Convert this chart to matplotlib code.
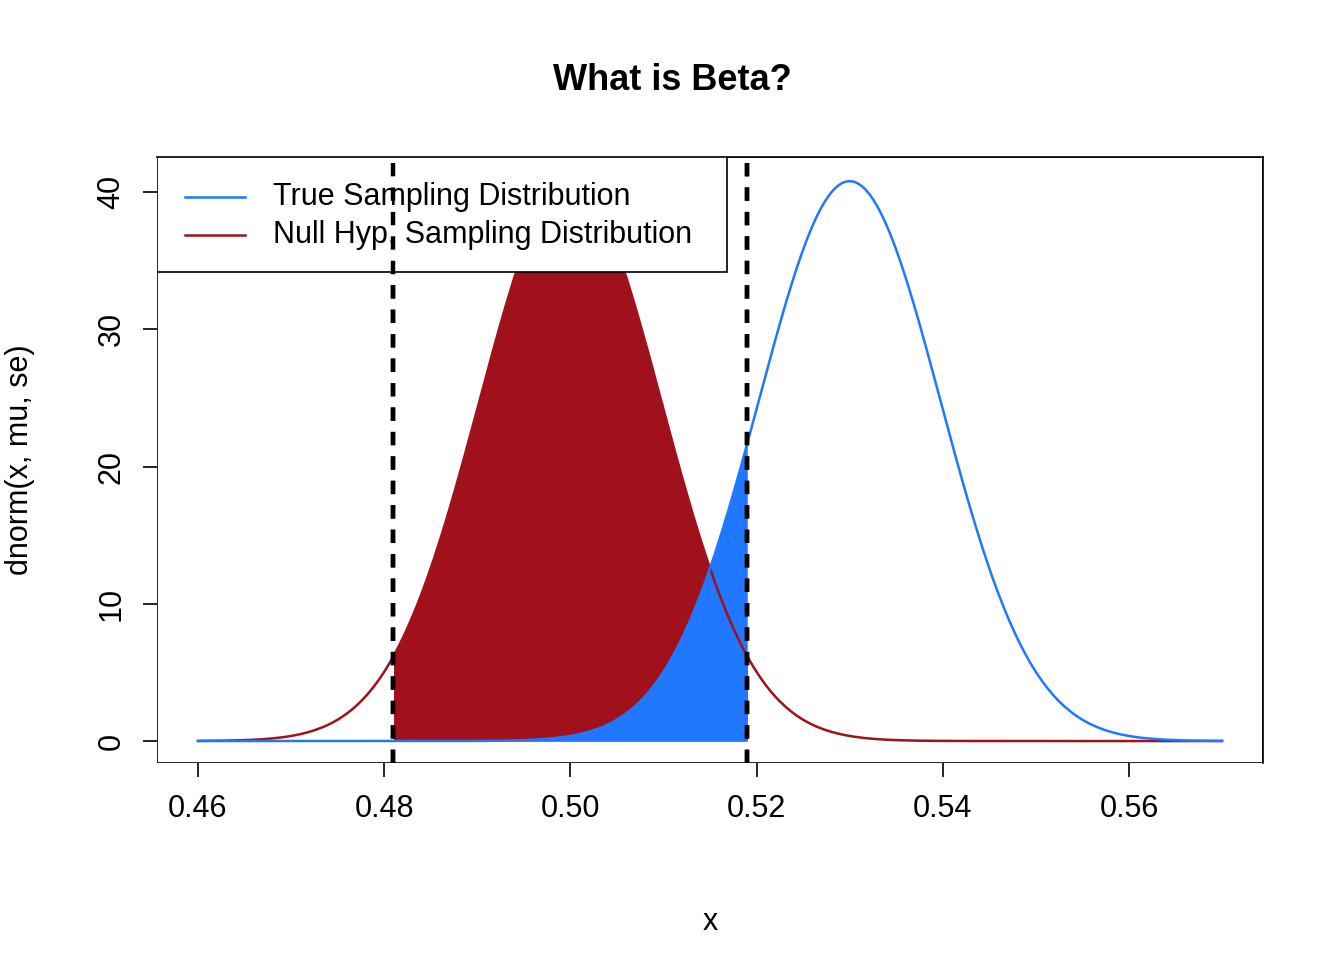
import numpy as np
import matplotlib.pyplot as plt
from matplotlib.patches import Rectangle

mu_null = 0.50
mu_true = 0.53
se = 0.00978
crit_lo = 0.481
crit_hi = 0.519
x_range = (0.46, 0.57)
x_ticks = [0.46, 0.48, 0.50, 0.52, 0.54, 0.56]
y_ticks = [0, 10, 20, 30, 40]
legend_labels = ["True Sampling Distribution", "Null Hyp. Sampling Distribution"]

blue = "#1F78FF"
red = "#A0111B"


def dnorm(x, m, s):
    return np.exp(-0.5 * ((x - m) / s) ** 2) / (s * np.sqrt(2 * np.pi))


plt.rcParams['font.family'] = ['Liberation Sans', 'DejaVu Sans']
fig = plt.figure(figsize=(6.72, 4.8), dpi=200)
ax = fig.add_axes([157 / 1344, 1 - 763 / 960, (1263 - 157) / 1344, (763 - 157) / 960])

x = np.linspace(x_range[0], x_range[1], 300)
ax.plot(x, dnorm(x, mu_null, se), color=red, lw=0.9)
xs = np.linspace(crit_lo, crit_hi, 200)
ax.fill_between(xs, 0, dnorm(xs, mu_null, se), color=red, lw=0)
ax.fill_between(xs, 0, dnorm(xs, mu_true, se), color=blue, lw=0)
ax.plot(x, dnorm(x, mu_true, se), color=blue, lw=0.9)
for c in (crit_lo, crit_hi):
    ax.axvline(c, color='black', lw=1.6, ls=(0, (3, 2.5)))

ax.set_xlim(0.4556, 0.5744)
ax.set_ylim(-1.6, 42.55)
ax.set_xticks(x_ticks)
ax.set_xticklabels([f"{t:.2f}" for t in x_ticks])
ax.set_yticks(y_ticks)
ax.set_yticklabels([str(t) for t in y_ticks], rotation=90, va='center')
ax.tick_params(labelsize=11, length=5, width=0.6, pad=6)
for s in ax.spines.values():
    s.set_linewidth(0.6)
for s in ('top', 'right'):
    ax.spines[s].set_visible(True)
ax.spines['bottom'].set_visible(False)
ax.spines['left'].set_visible(False)
ax.add_patch(Rectangle((0, 0), 1, 1, transform=ax.transAxes, fill=False, lw=0.6, zorder=5))
ax.set_xlabel("x", fontsize=11, labelpad=30)
ax.set_ylabel("dnorm(x, mu, se)", fontsize=11, labelpad=22)
fig.suptitle("What is Beta?", fontsize=13, fontweight='bold', y=1 - 80 / 960, va='center')

# legend box (drawn over the plot, like R's legend)
lw_frac = (727 - 157) / (1263 - 157)
lh_frac = (272 - 157) / (763 - 157)
ax.add_patch(Rectangle((0, 1 - lh_frac), lw_frac, lh_frac, transform=ax.transAxes,
                       facecolor='white', edgecolor='black', lw=0.6, zorder=6))
for i, (lab, col) in enumerate(zip(legend_labels, [blue, red])):
    yy = 1 - (197 + 38 * i - 157) / (763 - 157)
    ax.plot([(185 - 157) / 1106, (245 - 157) / 1106], [yy, yy], color=col, lw=0.9,
            transform=ax.transAxes, zorder=7)
    ax.text((273 - 157) / 1106, yy, lab, transform=ax.transAxes, fontsize=11,
            va='center', ha='left', zorder=7)
# dashed lines continue over legend in reference
for c in (crit_lo, crit_hi):
    ax.axvline(c, color='black', lw=1.6, ls=(0, (3, 2.5)), zorder=8)

fig.savefig("out.png", dpi=200)
